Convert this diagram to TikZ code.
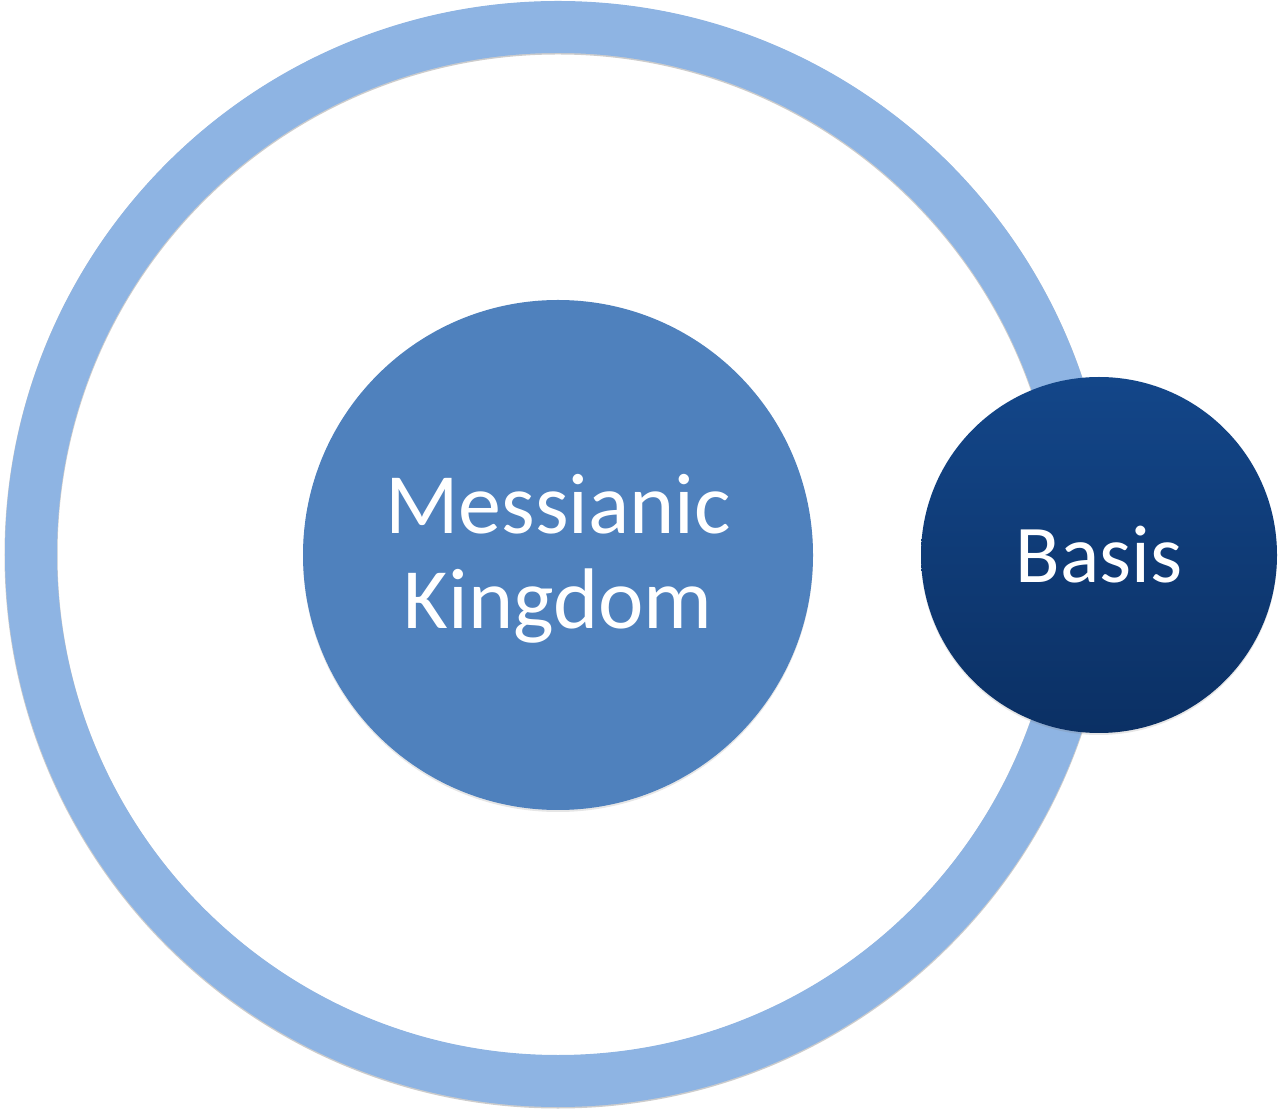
\documentclass[tikz,border=0pt]{standalone}
\usepackage{fontspec}
\setmainfont{Carlito}
\usetikzlibrary{shadows,fadings}
\definecolor{ringblue}{HTML}{8EB4E3}
\definecolor{midblue}{HTML}{4F81BD}
\definecolor{basistop}{HTML}{134689}
\definecolor{basisbot}{HTML}{0B3064}
\tikzset{
  lbl/.style={text=white, font=\fontsize{82}{95}\selectfont, align=center},
  softshadow/.style={drop shadow={shadow xshift=0pt, shadow yshift=-2pt, opacity=0.2, fill=black!50}}
}
\begin{document}
\begin{tikzpicture}[x=1pt,y=1pt]
\useasboundingbox (0,0) rectangle (1282,1109);
% outer ring
\draw[black!20, line width=53pt] (558,554) circle[radius=527];
\draw[ringblue, line width=52pt] (558,555) circle[radius=527];
% middle circle
\node[circle, minimum size=510pt, inner sep=0pt, fill=midblue, softshadow] (mk) at (558,554) {};
\node[lbl, font=\fontsize{86}{95}\selectfont] (mktext) at ([yshift=-4pt]mk.center) {Messianic\\Kingdom};
% basis circle
\node[circle, minimum size=356pt, inner sep=0pt, top color=basistop, bottom color=basisbot, softshadow, lbl] (basis) at (1099,554) {Basis};
\end{tikzpicture}
\end{document}
